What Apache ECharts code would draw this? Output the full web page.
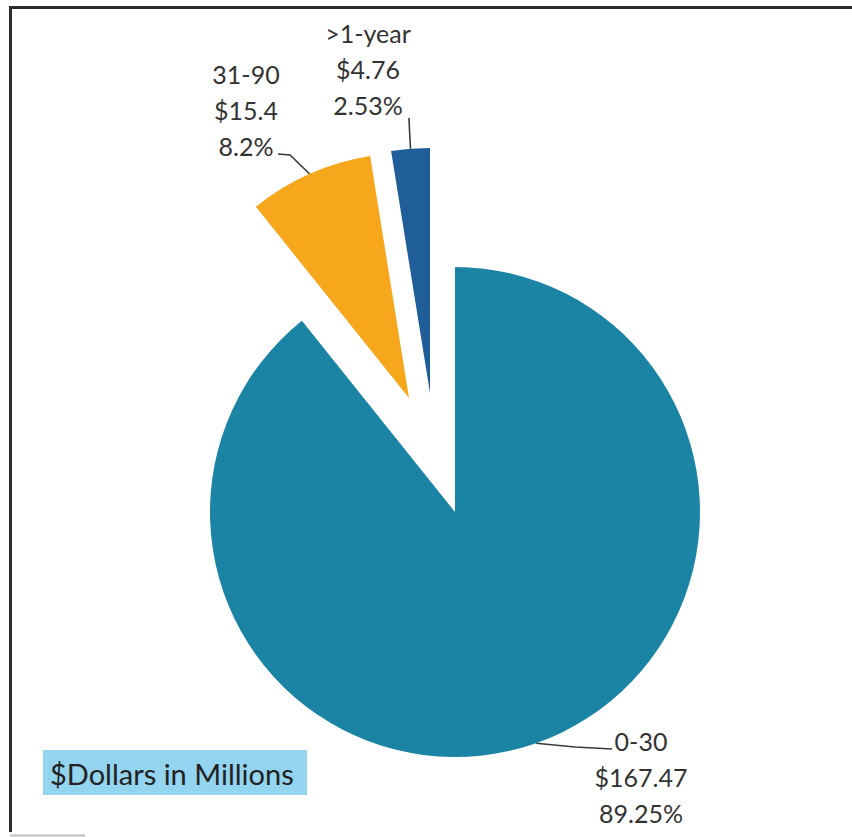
<!DOCTYPE html>
<html><head><meta charset="utf-8">
<script src="https://cdn.jsdelivr.net/npm/echarts/dist/echarts.min.js"></script>
<style>html,body{margin:0;padding:0;background:#fff}#c{width:852px;height:837px}</style>
</head><body><div id="c"></div>
<script>
// ---- data ----
const categories = ['0-30', '31-90', '>1-year'];
const amounts = [167.47, 15.4, 4.76];          // $ millions
const percentLabels = ['89.25%', '8.2%', '2.53%'];
const unitNote = '$Dollars in Millions';

// ---- styling ----
const colors = ['#1b84a5', '#f6a71b', '#1f5e98'];
const centers = [[455, 512], [409, 398], [430, 393]];   // slice explosion
const labelPos = [[641, 723], [246, 56], [368, 15]];
// leader line bends/ends (the start point comes from the pie layout)
const leaderEnds = [
  [[575, 747], [612, 749]],
  [[290, 155], [278, 154]],
  [[409.5, 130], [409, 118]]
];
const FONT = 'Lato, "Open Sans", sans-serif';

const chart = echarts.init(document.getElementById('c'), null, { renderer: 'svg' });

function makeSeries(k) {
  return {
    type: 'pie',
    silent: true,
    center: centers[k],
    radius: 245,
    startAngle: 90,
    clockwise: true,
    avoidLabelOverlap: false,
    emphasis: { disabled: true },
    label: {
      show: true,
      position: 'outside',
      fontFamily: FONT,
      fontSize: 25,
      lineHeight: 36,
      color: '#333333',
      align: 'center',
      formatter: p => `${p.name}\n$${amounts[p.dataIndex]}\n${percentLabels[p.dataIndex]}`
    },
    labelLine: { show: true, length: 20, length2: 14, lineStyle: { color: '#3a3a3a', width: 1.6 } },
    labelLayout: p => {
      const o = { x: labelPos[k][0], y: labelPos[k][1], align: 'center', verticalAlign: 'top' };
      if (p.labelLinePoints && p.labelLinePoints.length) {
        o.labelLinePoints = [p.labelLinePoints[0], leaderEnds[k][0], leaderEnds[k][1]];
      }
      return o;
    },
    data: categories.map((c, i) => ({
      name: c,
      value: amounts[i],
      itemStyle: { color: i === k ? colors[i] : 'rgba(0,0,0,0)', borderWidth: 0 },
      label: { show: i === k },
      labelLine: { show: i === k }
    }))
  };
}

chart.setOption({
  animation: false,
  backgroundColor: '#ffffff',
  series: [makeSeries(0), makeSeries(1), makeSeries(2)],
  graphic: [
    { type: 'line', shape: { x1: 9, y1: 7.5, x2: 852, y2: 7.5 }, style: { stroke: '#2b2b2b', lineWidth: 3 } },
    { type: 'line', shape: { x1: 10.5, y1: 6, x2: 10.5, y2: 832 }, style: { stroke: '#2b2b2b', lineWidth: 3 } },
    { type: 'line', shape: { x1: 10, y1: 835.5, x2: 85, y2: 835.5 }, style: { stroke: '#bdbdbd', lineWidth: 2 } },
    { type: 'rect', shape: { x: 43, y: 750, width: 264, height: 45 }, style: { fill: '#93d4ef' } },
    { type: 'text', x: 50, y: 773, style: { text: unitNote, font: '29px ' + FONT, fill: '#222222', textVerticalAlign: 'middle', verticalAlign: 'middle' } }
  ]
});
</script></body></html>
